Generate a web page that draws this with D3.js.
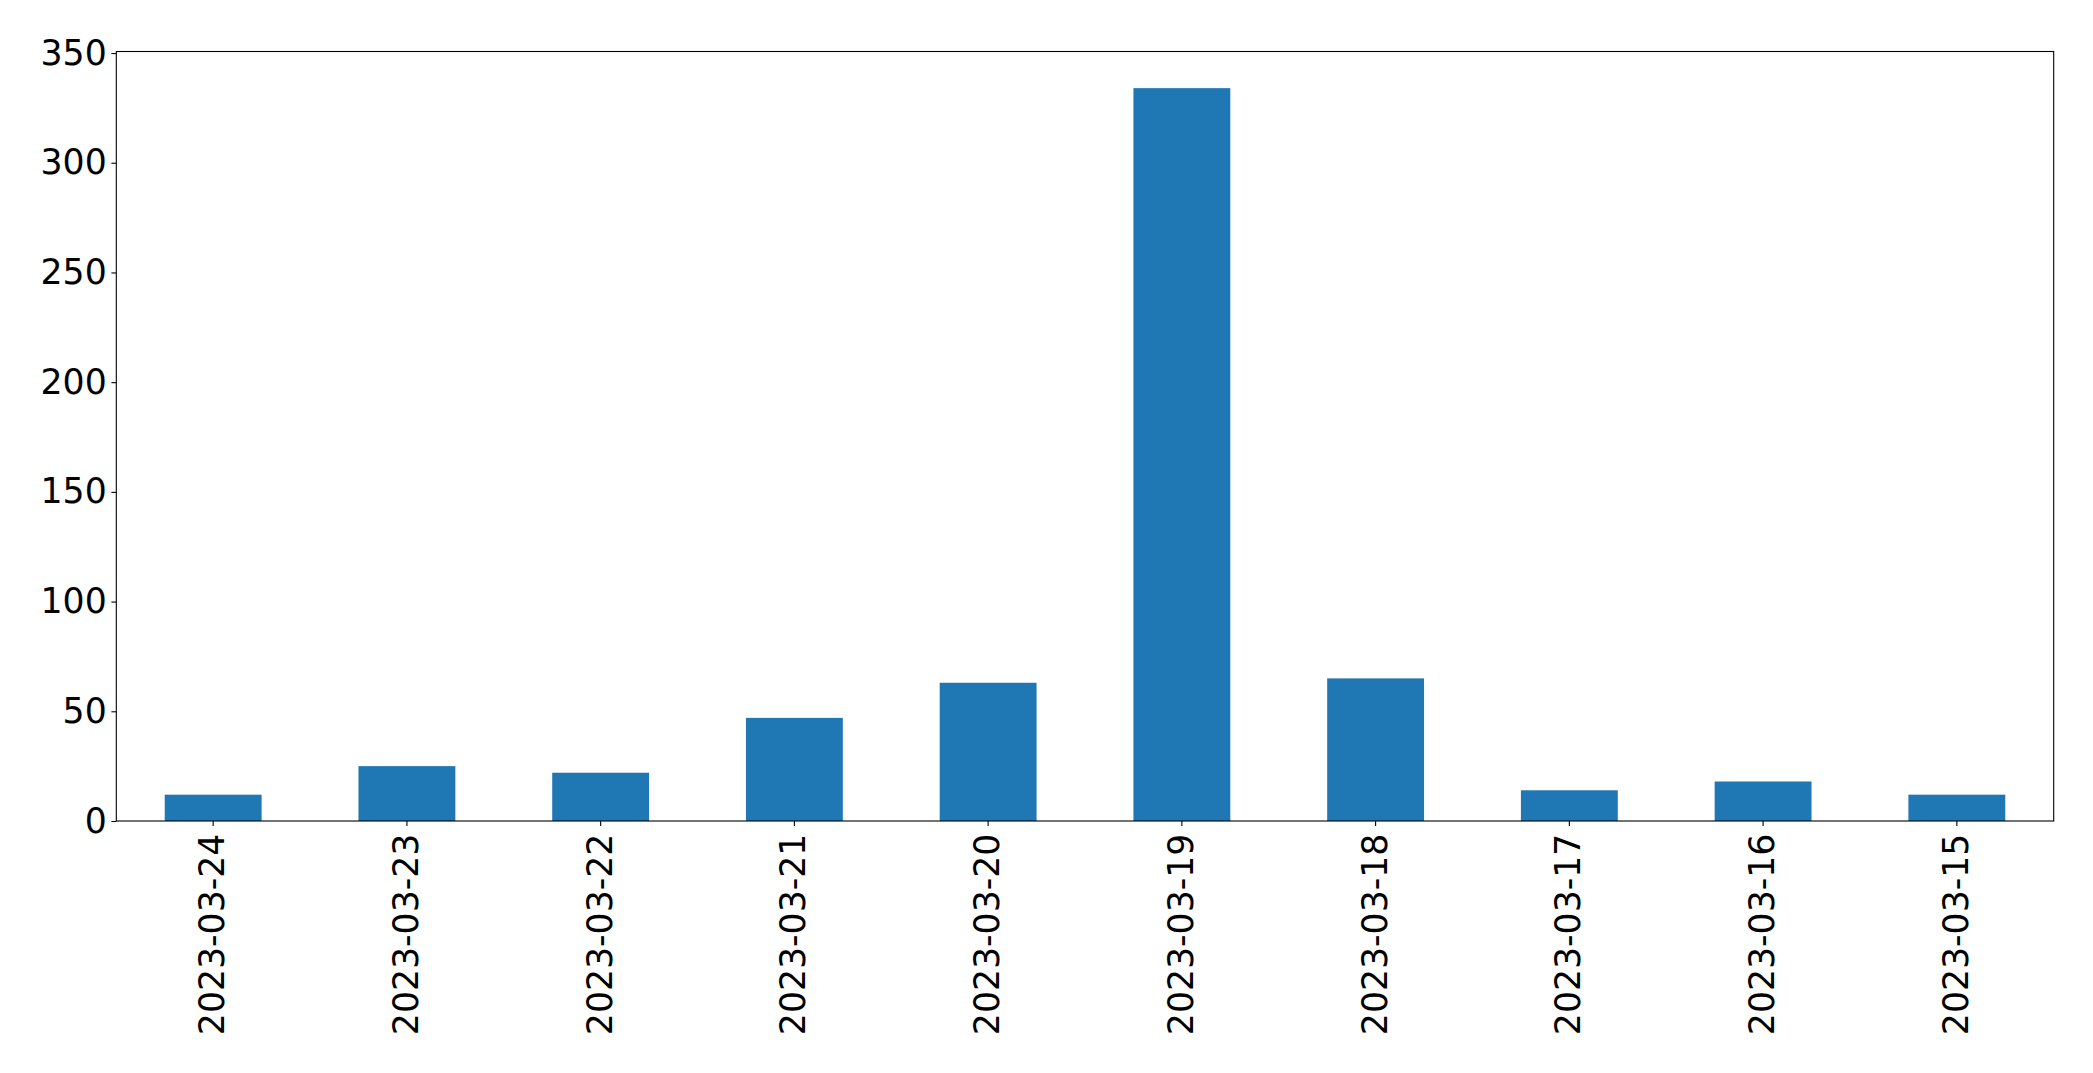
<!DOCTYPE html>
<html>
<head>
<meta charset="utf-8">
<script src="https://cdn.jsdelivr.net/npm/d3@7"></script>
<style>
  html, body { margin: 0; padding: 0; background: #fff; }
  svg { display: block; }
  text { font-family: "DejaVu Sans", sans-serif; fill: #000; }
</style>
</head>
<body>
<svg id="chart" width="2093" height="1073"></svg>
<script>
const categories = ["2023-03-24","2023-03-23","2023-03-22","2023-03-21","2023-03-20","2023-03-19","2023-03-18","2023-03-17","2023-03-16","2023-03-15"];
const values = [12, 25, 22, 47, 63, 334, 65, 14, 18, 12];
const yTicks = [0, 50, 100, 150, 200, 250, 300, 350];

const W = 2093, H = 1073;
const margin = { left: 116.3, right: W - 2053.7, top: 51.5, bottom: H - 821 };
const innerW = W - margin.left - margin.right;
const innerH = H - margin.top - margin.bottom;
const fontSize = 34.7;
const tickLen = 4.9, tickPad = 4.7;

const svg = d3.select("#chart");
const g = svg.append("g").attr("transform", `translate(${margin.left},${margin.top})`);

// band scale equivalent to matplotlib xlim [-0.5, n-0.5], bar width 0.5
const x = d3.scaleBand().domain(categories).range([0, innerW]).paddingInner(0.5).paddingOuter(0.25);
const yMax = d3.max(values) * 1.05;
const y = d3.scaleLinear().domain([0, yMax]).range([innerH, 0]);

// bars
g.selectAll("rect.bar").data(values).enter().append("rect")
  .attr("class", "bar")
  .attr("x", (d, i) => x(categories[i]))
  .attr("width", x.bandwidth())
  .attr("y", d => y(d))
  .attr("height", d => innerH - y(d))
  .attr("fill", "#1f77b4");

// y axis
const yAxis = d3.axisLeft(y).tickValues(yTicks).tickSize(tickLen).tickPadding(tickPad).tickFormat(d3.format("d"));
const yg = g.append("g").call(yAxis);
yg.select(".domain").remove();
yg.selectAll("line").attr("stroke", "#000").attr("stroke-width", 1.1);
yg.selectAll("text").attr("font-size", fontSize).attr("font-family", "DejaVu Sans").attr("fill", "#000");

// x axis
const xAxis = d3.axisBottom(x).tickSize(tickLen).tickPadding(tickPad);
const xg = g.append("g").attr("transform", `translate(0,${innerH})`).call(xAxis);
xg.select(".domain").remove();
xg.selectAll("line").attr("stroke", "#000").attr("stroke-width", 1.1);
xg.selectAll("text")
  .attr("font-size", fontSize)
  .attr("font-family", "DejaVu Sans")
  .attr("fill", "#000")
  .attr("text-anchor", "end")
  .attr("x", 0)
  .attr("y", 0)
  .attr("dy", "0.36em")
  .attr("transform", `translate(-1.5,${tickLen + tickPad + 3}) rotate(-90)`);

// spines
g.append("rect")
  .attr("x", 0).attr("y", 0)
  .attr("width", innerW).attr("height", innerH)
  .attr("fill", "none").attr("stroke", "#000").attr("stroke-width", 1.1);
</script>
</body>
</html>
